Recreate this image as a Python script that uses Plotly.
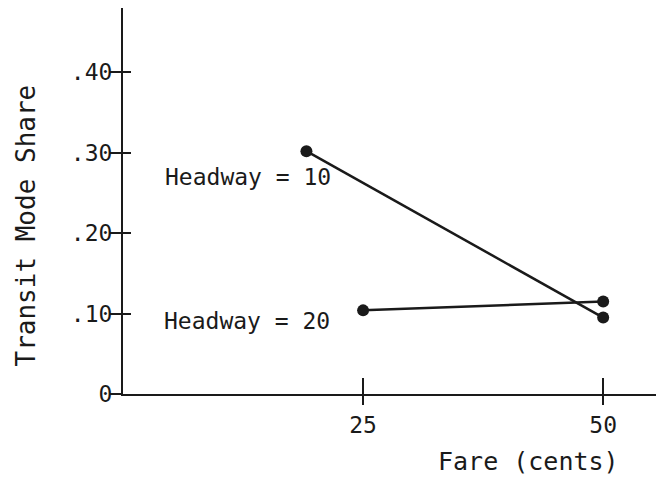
import plotly.graph_objects as go

# Data
fare_h10 = [19.1, 50]
share_h10 = [0.302, 0.095]
fare_h20 = [25, 50]
share_h20 = [0.104, 0.115]

series_labels = ["Headway = 10", "Headway = 20"]
label_pos_x = [4.2, 4.1]
label_pos_y = [0.270, 0.091]

x_ticks = [25, 50]
x_ticklabels = ["25", "50"]
y_ticks = [0, 0.10, 0.20, 0.30, 0.40]
y_ticklabels = ["0", ".10", ".20", ".30", ".40"]

FONT = "DejaVu Sans Mono"
INK = "#1a1a1a"

fig = go.Figure()
for xs, ys in [(fare_h10, share_h10), (fare_h20, share_h20)]:
    fig.add_trace(go.Scatter(
        x=xs, y=ys, mode="lines+markers",
        line=dict(color=INK, width=2.5),
        marker=dict(color=INK, size=12),
        showlegend=False, hoverinfo="skip",
    ))

for txt, lx, ly in zip(series_labels, label_pos_x, label_pos_y):
    fig.add_annotation(x=lx, y=ly, xref="x", yref="y", text=txt,
                       showarrow=False, xanchor="left", yanchor="middle",
                       font=dict(family=FONT, size=23, color=INK))

fig.add_annotation(x=0.76, y=-0.175, xref="paper", yref="paper",
                   text="Fare (cents)", showarrow=False,
                   xanchor="center", yanchor="middle",
                   font=dict(family=FONT, size=25, color=INK))
fig.add_annotation(x=-0.182, y=0.4365, xref="paper", yref="paper",
                   text="Transit Mode Share", showarrow=False, textangle=-90,
                   xanchor="center", yanchor="middle",
                   font=dict(family=FONT, size=26, color=INK))

# Invisible trace to activate secondary (inside-tick) axes
fig.add_trace(go.Scatter(x=[None], y=[None], xaxis="x2", yaxis="y2",
                         showlegend=False, hoverinfo="skip"))

xr = [0, 55.5]
yr = [0, 0.48]
fig.update_layout(
    width=656, height=479,
    margin=dict(l=123, r=0, t=8, b=85),
    paper_bgcolor="white", plot_bgcolor="white",
    font=dict(family=FONT, size=23, color=INK),
    xaxis=dict(range=xr, showgrid=False, zeroline=False, showline=True,
               linecolor=INK, linewidth=2, ticks="outside", ticklen=9,
               tickwidth=2, tickcolor=INK, tickvals=x_ticks,
               ticktext=x_ticklabels, tickfont=dict(size=23)),
    yaxis=dict(range=yr, showgrid=False, zeroline=False, showline=True,
               linecolor=INK, linewidth=2, ticks="outside", ticklen=11,
               tickwidth=2, tickcolor=INK, tickvals=y_ticks,
               ticktext=y_ticklabels, tickfont=dict(size=23),
               ticklabelstandoff=-7),
    xaxis2=dict(range=xr, overlaying="x", side="bottom", showgrid=False,
                zeroline=False, showline=False, ticks="inside", ticklen=16,
                tickwidth=2, tickcolor=INK, tickvals=x_ticks,
                showticklabels=False),
    yaxis2=dict(range=yr, overlaying="y", side="left", showgrid=False,
                zeroline=False, showline=False, ticks="inside", ticklen=8,
                tickwidth=2, tickcolor=INK, tickvals=y_ticks,
                showticklabels=False),
)

fig.write_html("out.html",
               config={"displayModeBar": False},
               post_script="document.body.style.margin='0';"
                           "document.body.style.padding='0';")
